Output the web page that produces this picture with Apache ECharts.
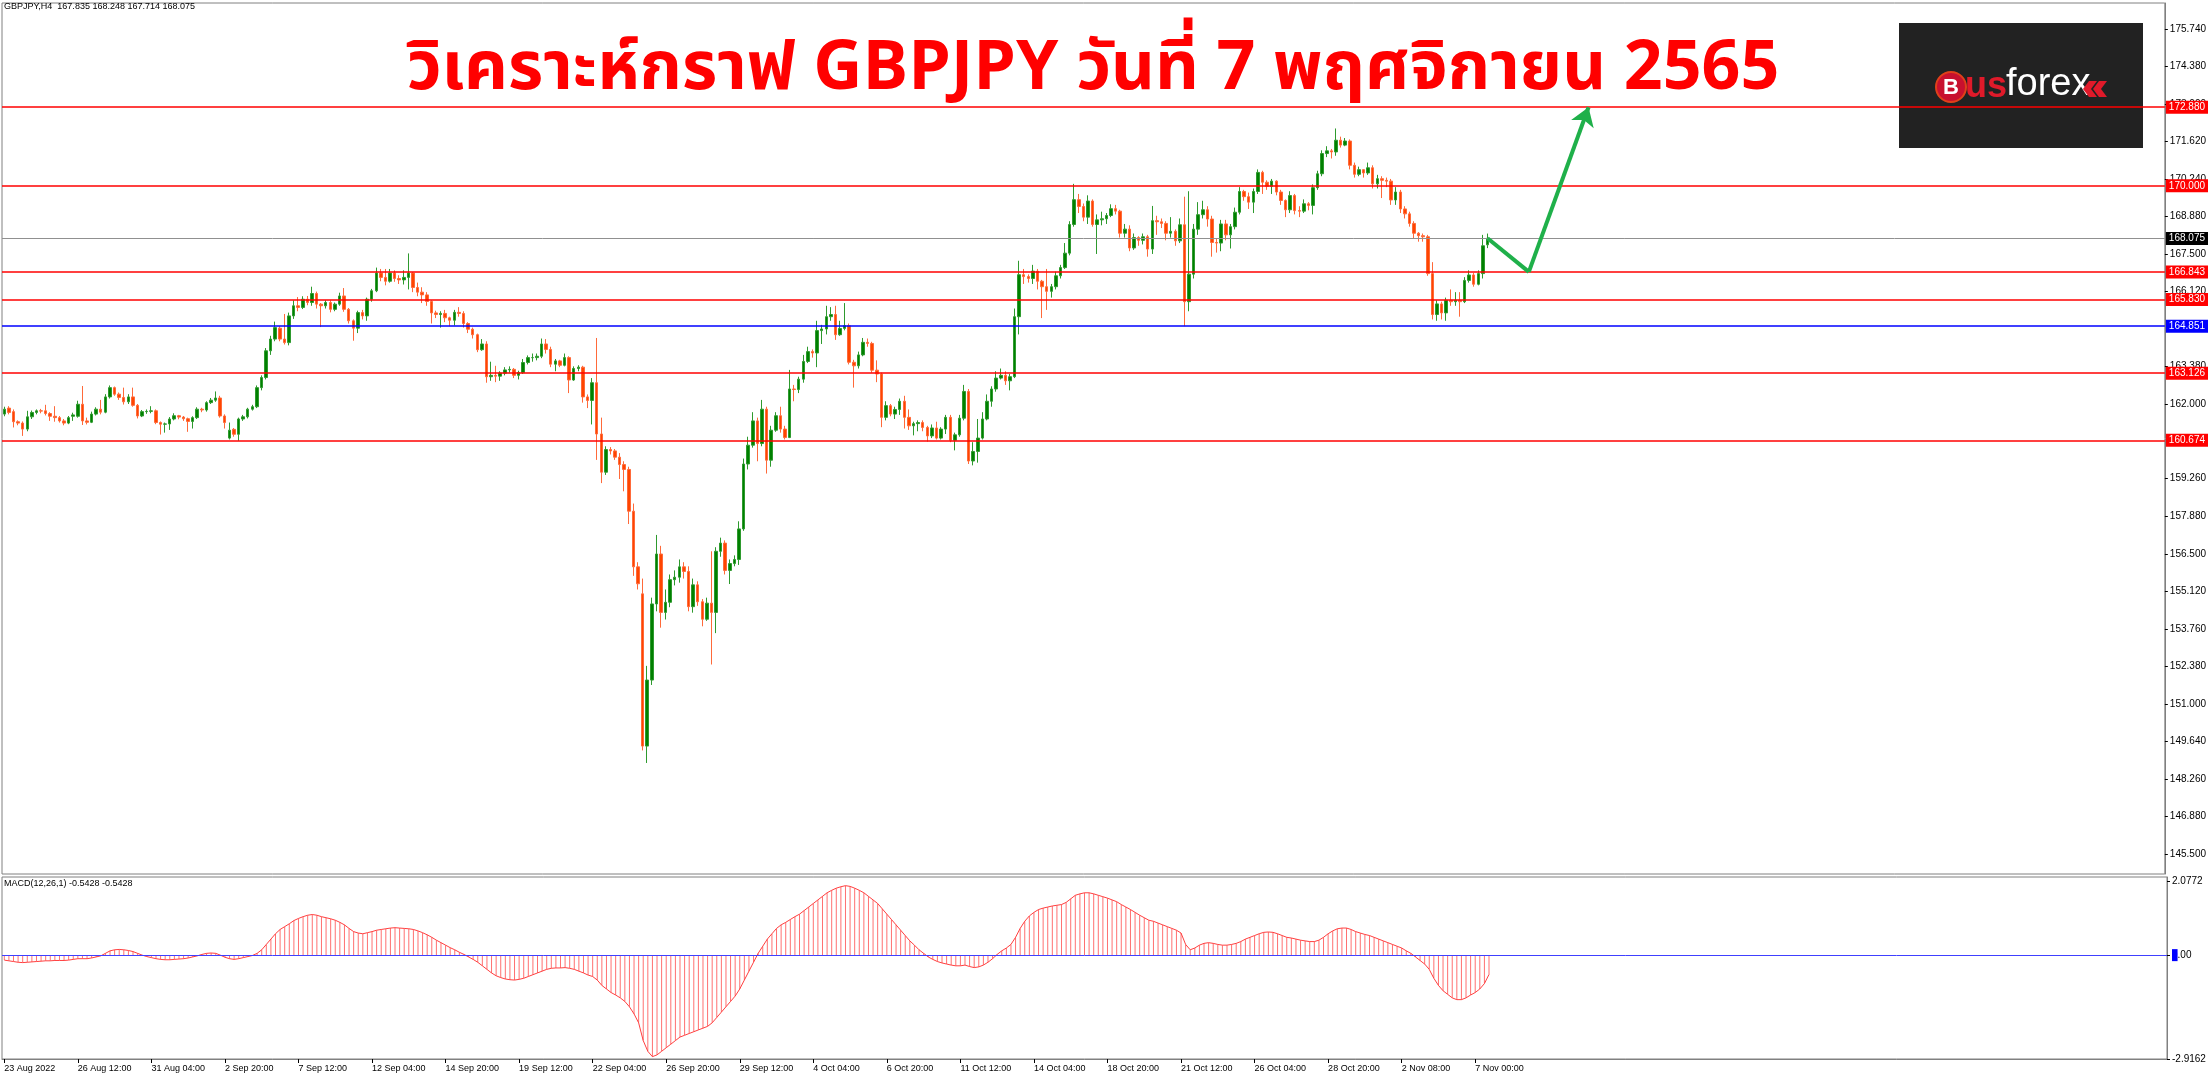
<!DOCTYPE html>
<html><head><meta charset="utf-8">
<script src="https://cdn.jsdelivr.net/npm/echarts@6/dist/echarts.min.js"></script>
<style>html,body{margin:0;padding:0;background:#fff;overflow:hidden}#c{width:2209px;height:1080px}</style>
</head><body><div id="c"></div>
<script>
// ---------------- DATA ----------------
const symbolName = 'GBPJPY,H4';
const titleText = 'วิเคราะห์กราฟ GBPJPY วันที่ 7 พฤศจิกายน 2565';
const timeTickLabels = ['23 Aug 2022','26 Aug 12:00','31 Aug 04:00','2 Sep 20:00','7 Sep 12:00','12 Sep 04:00','14 Sep 20:00','19 Sep 12:00','22 Sep 04:00','26 Sep 20:00','29 Sep 12:00','4 Oct 04:00','6 Oct 20:00','11 Oct 12:00','14 Oct 04:00','18 Oct 20:00','21 Oct 12:00','26 Oct 04:00','28 Oct 20:00','2 Nov 08:00','7 Nov 00:00'];
const priceTicks = [145.5,146.88,148.26,149.64,151.0,152.38,153.76,155.12,156.5,157.88,159.26,162.0,163.38,166.12,167.5,168.88,170.24,171.62,173.0,174.38,175.74];
const macdTicks = [2.0772, 0, -2.9162];

const opens = [
161.63,161.85,161.72,161.35,161.30,161.08,161.53,161.69,161.75,161.75,
161.65,161.55,161.50,161.38,161.30,161.55,161.55,161.99,161.38,161.33,
161.63,161.81,161.70,162.26,162.60,162.36,162.24,162.08,162.26,161.95,
161.56,161.72,161.73,161.75,161.32,161.26,161.27,161.45,161.57,161.52,
161.46,161.36,161.50,161.81,161.78,162.05,162.14,162.22,161.56,160.75,
161.07,160.89,161.45,161.53,161.81,161.90,162.60,162.97,163.95,164.38,
164.78,164.38,164.25,165.23,165.60,165.54,165.84,165.72,166.05,165.66,
165.60,165.72,165.47,165.66,165.96,165.47,165.05,164.78,165.35,165.23,
165.84,166.15,166.80,166.64,166.50,166.80,166.60,166.55,166.64,166.80,
166.27,166.10,166.00,165.76,165.34,165.28,165.32,165.16,165.07,165.36,
165.32,164.95,164.74,164.54,163.99,164.20,163.00,163.05,163.02,163.13,
163.25,163.27,163.05,163.15,163.52,163.70,163.70,163.75,164.20,164.00,
163.46,163.58,163.42,163.70,162.88,163.30,163.35,162.26,162.13,162.78,
160.90,159.50,160.33,160.28,160.05,159.78,159.60,158.07,156.03,155.04,
149.46,151.88,154.67,156.50,154.36,154.73,155.56,155.65,156.03,155.86,
154.57,155.37,154.75,154.11,154.70,154.36,156.60,156.90,155.90,156.15,
156.30,157.42,159.80,160.49,161.38,160.55,161.81,159.94,161.04,161.57,
161.08,160.77,162.55,162.53,162.91,163.56,163.92,163.87,164.69,164.75,
165.20,165.28,164.54,164.77,164.87,163.53,163.40,163.80,164.26,164.22,
163.24,163.10,161.51,161.94,161.63,161.80,162.10,161.51,161.20,161.28,
161.32,161.14,160.83,161.12,160.75,161.08,161.51,160.67,160.87,161.48,
162.46,159.91,160.26,160.75,161.45,162.10,162.55,162.95,163.05,162.85,
163.00,165.20,166.74,166.67,166.60,166.87,166.50,166.30,166.13,166.30,
166.70,167.00,167.53,168.58,169.49,169.24,168.85,169.44,168.58,168.75,
168.79,168.91,169.16,169.07,168.26,168.41,167.72,168.10,168.00,168.13,
167.68,168.72,168.68,168.62,168.26,168.33,167.98,168.57,165.75,166.76,
168.41,168.94,169.12,168.78,167.92,167.90,168.60,168.20,168.50,169.03,
169.79,169.60,169.40,169.79,170.49,170.13,169.98,170.17,169.77,169.46,
169.12,169.64,169.09,169.07,169.34,169.28,169.93,170.44,171.18,171.28,
171.24,171.67,171.49,171.64,170.75,170.42,170.59,170.47,170.66,170.07,
170.26,170.20,170.17,169.48,169.77,169.15,168.97,168.62,168.26,168.17,
168.13,166.78,165.28,165.67,165.34,165.80,165.75,165.80,165.75,166.53,
166.73,166.39,166.78,167.835];

const closes = [
161.81,161.69,161.35,161.30,161.08,161.53,161.69,161.75,161.74,161.65,
161.55,161.50,161.38,161.30,161.50,161.60,161.99,161.38,161.33,161.63,
161.81,161.70,162.26,162.60,162.36,162.24,162.08,162.26,161.95,161.56,
161.72,161.73,161.75,161.32,161.26,161.27,161.45,161.57,161.52,161.46,
161.36,161.50,161.81,161.78,162.05,162.14,162.22,161.56,161.32,161.04,
160.89,161.45,161.53,161.81,161.90,162.60,162.97,163.95,164.38,164.80,
164.38,164.25,165.23,165.60,165.54,165.84,165.72,166.05,165.66,165.60,
165.72,165.47,165.66,165.96,165.47,165.05,164.78,165.35,165.23,165.84,
166.15,166.80,166.64,166.50,166.80,166.60,166.55,166.64,166.80,166.27,
166.10,166.00,165.76,165.34,165.28,165.32,165.16,165.07,165.36,165.32,
164.95,164.74,164.54,163.99,164.20,163.00,163.05,163.02,163.13,163.25,
163.27,163.05,163.15,163.52,163.70,163.70,163.75,164.20,164.00,163.46,
163.58,163.42,163.70,162.88,163.30,163.35,162.26,162.13,162.78,160.90,
159.50,160.33,160.28,160.05,159.78,159.60,158.07,156.03,155.41,149.46,
151.88,154.67,156.50,154.36,154.73,155.56,155.65,156.03,155.86,154.57,
155.37,154.75,154.11,154.70,154.36,156.60,156.90,155.90,156.15,156.30,
157.42,159.80,160.49,161.38,160.55,161.81,159.94,161.04,161.57,161.08,
160.77,162.55,162.53,162.91,163.56,163.92,163.87,164.69,164.75,165.20,
165.28,164.54,164.77,164.87,163.53,163.40,163.80,164.26,164.22,163.24,
163.10,161.51,161.94,161.63,161.80,162.10,161.51,161.20,161.28,161.32,
161.14,160.83,161.12,160.75,161.08,161.51,160.67,160.87,161.48,162.46,
159.91,160.26,160.75,161.45,162.10,162.55,162.95,163.05,162.85,163.00,
165.20,166.74,166.67,166.60,166.87,166.50,166.30,166.13,166.30,166.70,
167.00,167.53,168.58,169.49,169.24,168.85,169.44,168.58,168.75,168.79,
168.91,169.16,169.07,168.26,168.41,167.72,168.10,168.00,168.13,167.68,
168.72,168.68,168.62,168.26,168.33,167.98,168.57,165.75,166.76,168.41,
168.94,169.12,168.78,167.92,167.90,168.60,168.20,168.50,169.03,169.79,
169.60,169.40,169.79,170.49,170.13,169.98,170.17,169.77,169.46,169.12,
169.64,169.09,169.07,169.34,169.28,169.93,170.44,171.18,171.28,171.24,
171.67,171.49,171.64,170.75,170.42,170.59,170.47,170.66,170.07,170.26,
170.20,170.17,169.48,169.77,169.15,168.97,168.62,168.26,168.17,168.13,
166.78,165.28,165.67,165.34,165.80,165.75,165.80,165.75,166.53,166.73,
166.39,166.78,167.80,168.075];

const lows = [
161.55,161.62,161.14,161.22,160.83,161.00,161.45,161.62,161.66,161.58,
161.38,161.35,161.32,161.22,161.26,161.38,161.50,161.23,161.25,161.30,
161.58,161.62,161.66,162.20,162.30,162.15,161.98,162.00,161.90,161.47,
161.52,161.64,161.66,161.26,160.88,160.95,161.05,161.40,161.44,161.38,
160.98,161.10,161.45,161.70,161.72,162.00,162.08,161.50,161.10,160.70,
160.80,160.65,161.38,161.47,161.76,161.85,162.50,162.90,163.80,164.30,
164.30,164.18,164.15,165.12,165.40,165.48,165.62,165.60,165.50,164.82,
165.50,165.36,165.40,165.60,165.38,164.95,164.32,164.60,165.10,165.05,
165.75,166.10,166.50,166.35,166.45,166.48,166.40,166.38,166.20,166.10,
165.95,165.70,165.60,164.95,165.15,164.80,165.00,164.85,164.88,165.20,
164.80,164.60,164.40,163.90,163.95,162.78,162.85,162.80,162.85,163.05,
163.15,162.95,162.90,163.10,163.45,163.55,163.60,163.68,163.85,163.35,
163.20,163.35,163.38,162.40,162.85,163.20,162.05,161.85,161.25,159.95,
159.10,159.40,160.15,159.95,159.25,158.80,157.60,155.70,155.20,149.30,
148.84,151.70,154.40,153.80,154.10,154.55,155.35,155.45,155.60,154.40,
154.35,154.60,153.85,154.05,152.45,153.60,156.40,155.75,155.40,156.05,
156.10,157.35,159.60,160.40,159.90,160.45,159.45,159.70,160.98,160.95,
160.70,160.75,162.10,162.40,162.78,163.50,163.70,163.35,164.20,164.55,
165.05,164.35,164.50,164.70,163.45,162.60,163.30,163.75,164.10,163.15,
162.80,161.15,161.40,161.55,161.45,161.60,161.10,161.05,160.85,161.00,
161.00,160.62,160.75,160.70,160.70,160.90,160.60,160.30,160.80,161.40,
159.80,159.75,159.85,160.70,161.40,161.90,162.45,162.90,162.70,162.50,
162.95,164.55,166.40,166.45,166.40,166.20,165.15,165.45,165.90,166.20,
166.60,166.95,167.45,168.50,169.00,168.70,168.60,168.50,167.50,168.55,
168.60,168.85,168.95,168.10,168.10,167.60,167.65,167.80,167.85,167.40,
167.50,168.20,168.45,168.00,168.10,167.80,167.90,164.85,165.40,166.60,
168.20,168.80,168.50,167.40,167.55,167.60,168.00,167.70,168.40,168.95,
169.45,169.15,169.00,169.70,169.70,169.85,169.70,169.65,169.30,168.85,
169.00,168.95,168.85,169.00,169.10,168.95,169.85,170.35,171.05,171.00,
171.10,171.40,171.45,170.60,170.30,170.35,170.30,170.40,169.90,169.90,
169.55,169.95,169.30,169.30,169.00,168.80,168.50,168.05,167.95,167.95,
166.70,165.10,165.05,165.10,165.05,165.60,165.60,165.20,165.70,166.45,
166.30,166.35,166.60,167.714];

const highs = [
161.90,161.92,161.80,161.40,161.36,161.75,161.76,161.80,161.82,161.97,
161.70,161.92,161.56,161.45,161.56,161.68,162.12,162.66,161.50,161.72,
161.88,162.15,162.36,162.68,162.64,162.42,162.60,162.36,162.60,162.00,
161.78,161.80,161.92,161.80,161.36,161.32,161.52,161.66,161.60,161.56,
161.50,161.55,161.88,161.86,162.10,162.22,162.46,162.30,161.62,161.32,
161.12,161.50,161.60,161.86,161.97,162.68,163.05,164.05,164.50,165.02,
164.85,165.30,165.35,165.80,165.92,165.95,165.96,166.30,166.12,165.70,
165.80,165.80,165.72,166.08,166.25,165.52,165.10,165.42,165.45,165.90,
166.22,167.00,166.95,166.95,166.95,166.90,166.72,166.90,167.52,166.84,
166.45,166.28,166.10,165.80,165.42,165.40,165.45,165.20,165.45,165.55,
165.40,165.00,164.80,164.58,164.38,164.30,163.55,163.40,163.20,163.35,
163.38,163.32,163.22,163.65,163.78,163.85,163.85,164.40,164.38,164.10,
163.65,163.62,163.85,163.75,163.38,163.42,163.40,162.35,162.95,164.42,
161.50,160.45,160.42,160.35,160.20,159.90,159.70,158.35,156.20,155.60,
152.40,154.90,157.20,156.80,155.20,155.75,155.90,156.30,156.20,156.05,
155.60,155.50,154.85,154.90,156.60,156.75,157.10,157.00,156.30,156.45,
157.70,160.00,160.80,161.70,161.50,162.15,161.90,161.20,161.70,161.90,
161.20,163.25,162.70,163.00,163.80,164.10,164.00,165.05,164.90,165.60,
165.55,165.60,165.05,165.70,164.95,163.62,163.92,164.42,164.40,164.28,
163.60,163.15,162.10,162.00,161.90,162.20,162.30,161.80,161.35,161.40,
161.40,161.20,161.25,161.35,161.15,161.60,161.60,160.95,161.60,162.70,
162.55,160.60,161.45,161.70,162.35,162.65,163.20,163.30,163.20,163.10,
165.50,167.25,166.95,166.75,167.10,166.95,166.55,166.95,166.40,166.85,
167.10,167.90,168.70,170.07,169.70,169.35,169.65,169.50,168.95,169.05,
169.00,169.32,169.30,169.12,168.60,168.55,168.25,168.15,168.25,168.20,
169.26,168.90,168.80,168.70,168.85,168.40,168.80,169.60,169.80,168.60,
169.40,169.45,169.25,168.90,168.05,168.75,168.75,168.60,169.20,169.95,
169.85,169.75,169.90,170.60,170.55,170.20,170.25,170.20,169.85,169.50,
169.80,169.70,169.25,169.50,169.40,170.05,170.55,171.30,171.45,171.35,
172.10,171.80,171.75,171.70,170.85,170.70,170.60,170.85,170.75,170.40,
170.35,170.30,170.25,169.95,169.85,169.25,169.05,168.70,168.30,168.25,
168.20,167.20,165.80,165.75,165.90,166.20,166.10,166.10,166.65,166.90,
166.80,166.90,168.20,168.248];

const macdValues = [
-0.14,-0.16,-0.18,-0.2,-0.21,-0.2,-0.19,-0.18,-0.17,-0.16,-0.16,-0.15,-0.15,-0.15,-0.14,-0.12,-0.1,-0.1,-0.1,-0.08,-0.05,
-0.02,0.05,0.12,0.15,0.16,0.15,0.13,0.1,0.05,0.0,
-0.04,-0.07,-0.1,-0.12,-0.13,-0.13,-0.12,-0.11,-0.1,-0.08,-0.05,-0.02,0.02,0.05,0.06,
0.05,0.0,-0.06,-0.1,-0.12,-0.1,-0.07,-0.04,-0.01,0.05,
0.15,0.3,0.45,0.6,0.72,0.8,0.88,0.97,1.03,1.08,1.12,
1.14,1.12,1.08,1.05,1.02,0.98,0.92,0.85,0.75,0.66,0.62,
0.6,0.63,0.66,0.7,0.72,0.74,0.76,0.77,0.76,0.75,0.74,0.72,0.68,
0.63,0.57,0.5,0.42,0.35,0.28,0.21,0.15,0.08,0.02,
-0.05,-0.12,-0.2,-0.3,-0.4,-0.5,-0.58,-0.63,-0.67,-0.69,
-0.7,-0.68,-0.65,-0.6,-0.55,-0.5,-0.45,-0.4,-0.37,-0.36,
-0.36,-0.35,-0.37,-0.4,-0.45,-0.5,-0.56,-0.6,-0.7,-0.85,
-0.95,-1.05,-1.12,-1.2,-1.3,-1.45,-1.65,-1.9,-2.4,-2.7,
-2.85,-2.8,-2.7,-2.6,-2.5,-2.4,-2.3,-2.25,-2.2,-2.15,
-2.1,-2.05,-2.0,-1.9,-1.75,-1.6,-1.45,-1.3,-1.15,-0.95,
-0.7,-0.45,-0.2,0.05,0.25,0.45,0.6,0.75,0.85,0.92,
1.0,1.08,1.15,1.25,1.35,1.45,1.55,1.65,1.75,1.82,
1.88,1.92,1.95,1.93,1.88,1.82,1.75,1.65,1.55,1.45,
1.3,1.15,1.0,0.85,0.7,0.55,0.4,0.28,0.15,0.05,
-0.05,-0.12,-0.18,-0.22,-0.25,-0.28,-0.3,-0.3,-0.28,-0.32,
-0.35,-0.33,-0.28,-0.2,-0.1,0.02,0.12,0.2,0.3,0.5,
0.75,0.95,1.1,1.2,1.28,1.32,1.35,1.38,1.4,1.42,
1.48,1.58,1.68,1.72,1.75,1.75,1.72,1.68,1.64,1.6,
1.55,1.5,1.42,1.35,1.28,1.2,1.12,1.05,0.98,0.95,
0.9,0.85,0.8,0.75,0.7,0.62,0.3,0.15,0.2,0.28,
0.33,0.35,0.33,0.3,0.28,0.28,0.3,0.33,0.38,0.45,
0.5,0.55,0.6,0.64,0.65,0.64,0.6,0.55,0.5,0.48,
0.45,0.42,0.4,0.38,0.38,0.42,0.5,0.6,0.68,0.74,
0.76,0.76,0.72,0.66,0.62,0.58,0.55,0.5,0.45,0.4,
0.35,0.3,0.25,0.2,0.12,0.05,-0.05,-0.15,-0.25,-0.4,
-0.65,-0.85,-1.0,-1.1,-1.2,-1.25,-1.25,-1.2,-1.12,-1.05,-0.95,-0.8,-0.5428];

// horizontal levels drawn on the chart
const levelValues = [172.880, 170.000, 168.075, 166.843, 165.830, 164.851, 163.126, 160.674];
const levelColors = ['#ff0000','#ff0000','#909090','#ff0000','#ff0000','#0000ff','#ff0000','#ff0000'];
const levelLabelBg = ['#ff0000','#ff0000','#000000','#ff0000','#ff0000','#0000ff','#ff0000','#ff0000'];
// forecast arrow path: [bar index, price]
const forecastPath = [[323, 168.075], [332, 166.843], [345, 172.88]];

// ---------------- LAYOUT ----------------
const SLOTS = 471;
const slots = Array.from({length: SLOTS}, (_, i) => i);
const candleData = opens.map((o, i) => [o, closes[i], lows[i], highs[i]]);
const last = candleData.length - 1;
const fontUI = '"Liberation Sans", "DejaVu Sans", Arial, sans-serif';
const hasTimeLabel = idx => idx % 16 === 0 && idx / 16 < timeTickLabels.length;

const chart = echarts.init(document.getElementById('c'), null, {renderer: 'canvas'});

const levelMarks = levelValues.map((v, i) => ({
  yAxis: v,
  lineStyle: {color: levelColors[i], width: levelColors[i] === '#909090' ? 1 : 1.5, type: 'solid'},
  label: {show: true, position: 'end', distance: 1, formatter: v.toFixed(3),
          backgroundColor: levelLabelBg[i], color: '#fff', padding: [2, 3, 1, 3],
          fontSize: 10, fontFamily: fontUI}
}));

const option = {
  animation: false,
  backgroundColor: '#ffffff',
  grid: [
    {left: 2, right: 42, top: 3, height: 871, show: true, borderColor: '#808080', borderWidth: 1, backgroundColor: '#fff'},
    {left: 2, right: 42, top: 877, height: 182, show: true, borderColor: '#808080', borderWidth: 1, backgroundColor: '#fff'}
  ],
  xAxis: [
    {type: 'category', gridIndex: 0, data: slots, boundaryGap: true,
     axisLine: {show: false, onZero: false}, axisTick: {show: false}, axisLabel: {show: false}, splitLine: {show: false}},
    {type: 'category', gridIndex: 1, data: slots, boundaryGap: true, position: 'bottom',
     axisLine: {show: true, onZero: false, lineStyle: {color: '#808080'}},
     axisTick: {show: true, interval: (idx) => hasTimeLabel(idx), alignWithLabel: true, length: 4, lineStyle: {color: '#000'}},
     axisLabel: {show: true, interval: (idx) => hasTimeLabel(idx), align: 'left', margin: 5, fontSize: 9, color: '#000', fontFamily: fontUI,
       formatter: (v, idx) => hasTimeLabel(idx) ? timeTickLabels[idx / 16] : ''},
     splitLine: {show: false}}
  ],
  yAxis: [
    {type: 'value', gridIndex: 0, position: 'right', min: 144.77, max: 176.70, scale: true,
     axisLine: {show: true, lineStyle: {color: '#808080'}},
     axisTick: {show: true, length: 3, lineStyle: {color: '#000'}, customValues: priceTicks},
     axisLabel: {show: true, margin: 5, fontSize: 10, color: '#000', fontFamily: fontUI, customValues: priceTicks,
       formatter: v => v.toFixed(3)},
     splitLine: {show: false}},
    {type: 'value', gridIndex: 1, position: 'right', min: -2.9162, max: 2.1934,
     axisLine: {show: true, lineStyle: {color: '#808080'}},
     axisTick: {show: true, length: 3, lineStyle: {color: '#000'}, customValues: macdTicks},
     axisLabel: {show: true, margin: 5, fontSize: 10, color: '#000', fontFamily: fontUI, customValues: macdTicks,
       formatter: v => v === 0 ? '{z|0}.00' : v.toFixed(4),
       rich: {z: {backgroundColor: '#0000ff', color: '#0000ff', fontSize: 10, padding: [1, 0, 1, 0]}}},
     splitLine: {show: false}}
  ],
  series: [
    {type: 'candlestick', name: 'price', xAxisIndex: 0, yAxisIndex: 0, data: candleData, barWidth: 3,
     itemStyle: {color: '#008000', color0: '#ff4500', borderColor: '#2e9a2e', borderColor0: '#ff6a3a', borderWidth: 1},
     markLine: {silent: true, symbol: 'none', z: 5, data: levelMarks, animation: false}},
    {type: 'lines', coordinateSystem: 'cartesian2d', xAxisIndex: 0, yAxisIndex: 0, z: 6,
     data: [{coords: [forecastPath[0], forecastPath[1]]}],
     lineStyle: {color: '#1fb04a', width: 4, opacity: 1}, symbol: ['none', 'none']},
    {type: 'lines', coordinateSystem: 'cartesian2d', xAxisIndex: 0, yAxisIndex: 0, z: 6,
     data: [{coords: [forecastPath[1], forecastPath[2]]}],
     lineStyle: {color: '#1fb04a', width: 4, opacity: 1}, symbol: ['none', 'arrow'], symbolSize: 18},
    {type: 'bar', name: 'macd', xAxisIndex: 1, yAxisIndex: 1, data: macdValues, barWidth: 1,
     itemStyle: {color: '#ff7070'},
     markLine: {silent: true, symbol: 'none', label: {show: false},
       data: [{yAxis: 0, lineStyle: {color: '#4040ff', width: 1, type: 'solid'}}]}},
    {type: 'line', name: 'signal', xAxisIndex: 1, yAxisIndex: 1, data: macdValues, symbol: 'none',
     lineStyle: {color: '#ff4040', width: 1}}
  ],
  graphic: [
    {type: 'text', left: 4, top: 2, z: 10,
     style: {text: symbolName + '  ' + candleData[last][0].toFixed(3) + ' ' + candleData[last][3].toFixed(3) + ' ' +
             candleData[last][2].toFixed(3) + ' ' + candleData[last][1].toFixed(3),
             font: '9px ' + fontUI, fill: '#000'}},
    {type: 'text', left: 4, top: 879, z: 10,
     style: {text: 'MACD(12,26,1) ' + macdValues[last].toFixed(4) + ' ' + macdValues[last].toFixed(4),
             font: '9px ' + fontUI, fill: '#000'}},
    {type: 'text', x: 1093, y: 75, z: 10,
     style: {text: titleText, font: 'bold 68px "Noto Sans Thai", "Noto Sans", "DejaVu Sans", sans-serif',
             fill: '#ff0000', textAlign: 'center', textVerticalAlign: 'middle'}},
    {type: 'group', x: 1899, y: 23, z: 10, children: [
      {type: 'rect', shape: {x: 0, y: 0, width: 244, height: 125}, style: {fill: '#222222'}},
      {type: 'circle', shape: {cx: 52, cy: 64, r: 15}, style: {fill: '#c8102e', stroke: '#e0401a', lineWidth: 2}},
      {type: 'text', x: 52, y: 65, style: {text: 'B', font: 'bold 22px ' + fontUI, fill: '#fff', textAlign: 'center', textVerticalAlign: 'middle'}},
      {type: 'text', x: 66, y: 64, style: {text: 'us', font: 'bold 36px ' + fontUI, fill: '#e01a2a', textVerticalAlign: 'middle'}},
      {type: 'text', x: 107, y: 62, style: {text: 'forex', font: '38px ' + fontUI, fill: '#ffffff', textVerticalAlign: 'middle'}},
      {type: 'polygon', shape: {points: [[190,58],[198,58],[192,66],[198,74],[190,74],[184,66]]}, style: {fill: '#e01a2a'}},
      {type: 'polygon', shape: {points: [[200,58],[208,58],[202,66],[208,74],[200,74],[194,66]]}, style: {fill: '#e01a2a'}}
    ]}
  ]
};
chart.setOption(option);
</script></body></html>
